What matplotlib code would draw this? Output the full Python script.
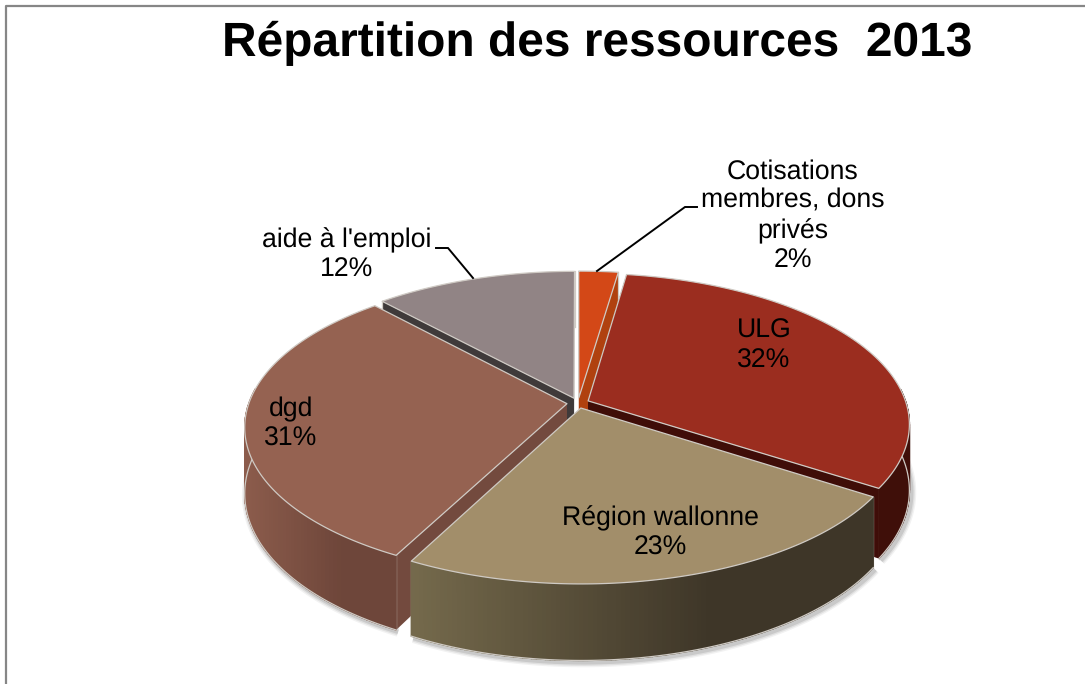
import matplotlib
matplotlib.use('Agg')
import matplotlib.pyplot as plt
import numpy as np
from matplotlib.colors import to_rgb

plt.rcParams['font.family'] = ['Liberation Sans', 'DejaVu Sans']
plt.rcParams['text.hinting'] = 'no_hinting'

# Données
categories = ['Cotisations\nmembres, dons\nprivés', 'ULG', 'Région wallonne', 'dgd', "aide à l'emploi"]
values = [2.3, 31.9, 23.4, 30.6, 11.8]

# Couleurs: dessus, mur droite/gauche, faces coupées
top_colors = ['#D34817', '#9B2D1F', '#A28E6A', '#956251', '#918485']
wall_colors = [('#B0410F', '#B0410F'), ('#3F0F09', '#3F0F09'), ('#3E3628', '#756A4C'),
               ('#6E463A', '#8C5C4C'), ('#5A5253', '#6A6162')]
face_start = ['#B0410F', '#3F0D08', '#3E3628', '#734A3E', '#3F3A3A']
face_end = ['#B0410F', '#3F0D08', '#756A4C', '#734A3E', '#8F8A8A']
edge = '#CFCAC4'

# Géométrie du disque en perspective
cx, cy = 578, 403
R, Q, k, D = 318, 147.5, 0.152, 64.5
explode = 0.035
draw_order = [4, 0, 3, 1, 2]


def project(u, v, z=0.0):
    s = 1 / (1 - k * v)
    return cx + R * u * s, cy + (Q * v + z) * s


def lerp(c1, c2, f):
    a, b = np.array(to_rgb(c1)), np.array(to_rgb(c2))
    return tuple(a + (b - a) * f)


fig = plt.figure(figsize=(10.85, 6.84), dpi=100)
ax = fig.add_axes([0, 0, 1, 1])
ax.set_xlim(0, 1085)
ax.set_ylim(684, 0)
ax.axis('off')

# Cadre
ax.plot([6, 6, 1085], [684, 5.5, 5.5], color='#868686', lw=1.6, solid_capstyle='butt')

cum = np.cumsum([0] + values) / sum(values) * 2 * np.pi
z = 3

# Ombre sous les murs
for lw, alpha in [(7, 0.05), (5, 0.07), (3, 0.10)]:
    for i in range(len(values)):
        t = np.linspace(cum[i], cum[i + 1], 80)
        mid = (cum[i] + cum[i + 1]) / 2
        ou, ov = explode * np.sin(mid), -explode * np.cos(mid)
        u, v = ou + np.sin(t), ov - np.cos(t)
        keep = v > -0.1
        if keep.sum() > 1:
            x, y = project(u[keep], v[keep], D)
            ax.plot(x + 2, y + 2, color='black', lw=lw, alpha=alpha, solid_capstyle='butt', zorder=z)

for i in draw_order:
    t0, t1 = cum[i], cum[i + 1]
    mid = (t0 + t1) / 2
    ou, ov = explode * np.sin(mid), -explode * np.cos(mid)
    t = np.linspace(t0, t1, 120)
    u, v = ou + np.sin(t), ov - np.cos(t)
    z += 1

    # Faces coupées
    for tf, col in [(t0, face_start[i]), (t1, face_end[i])]:
        uf, vf = ou + np.sin(tf), ov - np.cos(tf)
        xa, ya = project(ou, ov)
        xb, yb = project(uf, vf)
        xc, yc = project(uf, vf, D)
        xd, yd = project(ou, ov, D)
        ax.fill([xa, xb, xc, xd], [ya, yb, yc, yd], color=col, lw=0, zorder=z)
        ax.plot([xb, xc], [yb, yc], color=edge, lw=0.9, zorder=z + 0.2)

    # Mur extérieur en bandes (dégradé)
    xt, yt = project(u, v)
    xb, yb = project(u, v, D)
    vis = np.where(v > -0.1)[0]
    if len(vis) > 1:
        x_lo, x_hi = xt[vis].min(), xt[vis].max()
        for j in vis[:-1]:
            if j + 1 not in vis:
                continue
            f = (x_hi - xt[j]) / max(x_hi - x_lo, 1)
            f = np.clip((f - 0.35) / 0.65, 0, 1)
            col = lerp(wall_colors[i][0], wall_colors[i][1], f)
            ax.fill([xt[j], xt[j + 1], xb[j + 1], xb[j]], [yt[j], yt[j + 1], yb[j + 1], yb[j]],
                    facecolor=col, edgecolor=col, lw=1.0, zorder=z + 0.4)
        ax.plot(xb[vis], yb[vis], color=edge, lw=0.9, zorder=z + 0.5)

    # Dessus
    xa, ya = project(ou, ov)
    ax.fill(np.r_[xa, xt], np.r_[ya, yt], facecolor=top_colors[i], edgecolor=edge, lw=0.9,
            joinstyle='round', zorder=z + 0.7)

# Lignes de repère
ax.plot([697, 685, 597], [207, 207, 271], color='black', lw=1.4, solid_joinstyle='miter', zorder=20)
ax.plot([436, 448, 473], [248, 248, 278], color='black', lw=1.4, solid_joinstyle='miter', zorder=20)

# Textes
fs = 19.2
pct = [round(v / sum(values) * 100) for v in values]
ax.text(597, 43, 'Répartition des ressources  2013', fontsize=34.5, fontweight='bold', ha='center', va='center', zorder=21)
kw = dict(fontsize=fs, ha='center', va='center', linespacing=1.23, color='black', zorder=21)
ax.text(793, 216, '%s\n%d%%' % (categories[0], pct[0]), **kw)
ax.text(764, 346, '%s\n%d%%' % (categories[1], pct[1]), **kw)
ax.text(660, 533, '%s\n%d%%' % (categories[2], pct[2]), **kw)
ax.text(291, 424, '%s\n%d%%' % (categories[3], pct[3]), **kw)
ax.text(347, 255, '%s\n%d%%' % (categories[4], pct[4]), **kw)

fig.savefig('out.png', dpi=100)
